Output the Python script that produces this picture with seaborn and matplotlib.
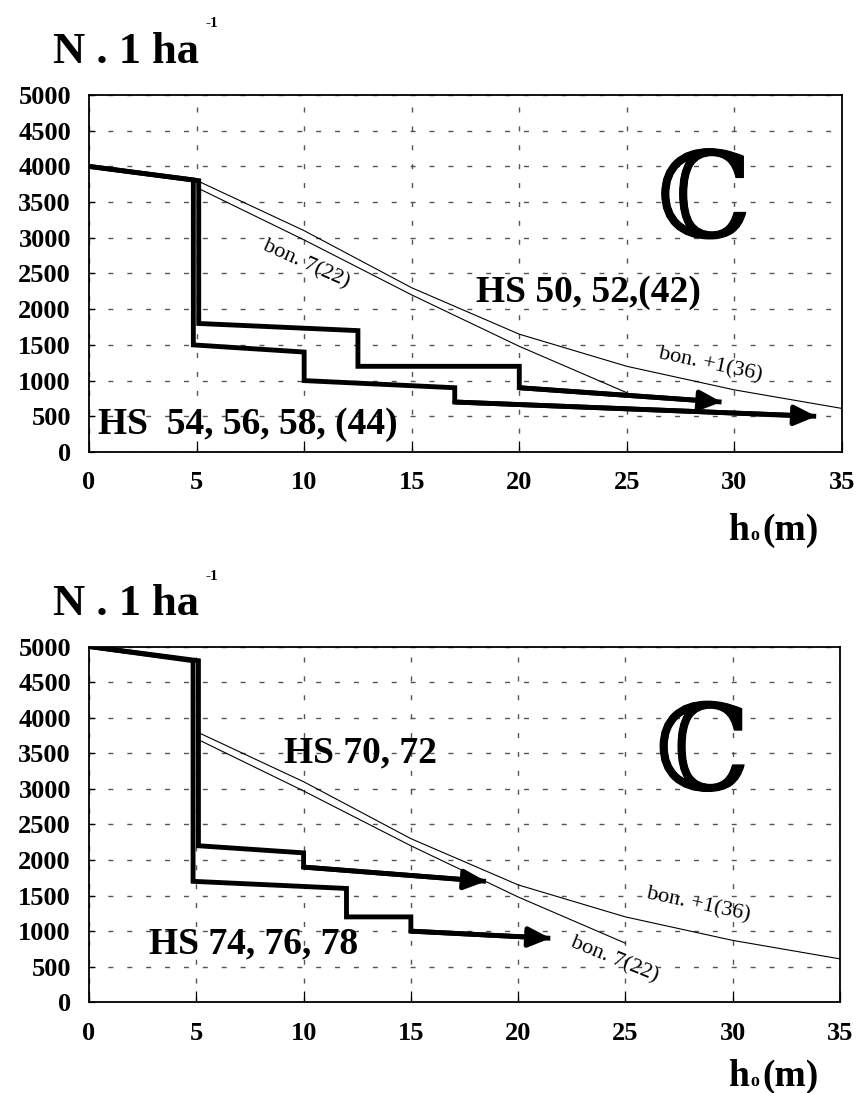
import matplotlib
matplotlib.use("Agg")
import matplotlib.pyplot as plt
import matplotlib.patheffects as pe
import seaborn as sns

# ---------------- data ----------------
x_ticks = [0, 5, 10, 15, 20, 25, 30, 35]
y_ticks = [0, 500, 1000, 1500, 2000, 2500, 3000, 3500, 4000, 4500, 5000]

# top panel
hs50_x = [0, 5.1, 5.1, 12.5, 12.5, 20, 20, 29.4]
hs50_y = [4000, 3800, 1800, 1700, 1200, 1200, 900, 700]
hs54_x = [0, 4.85, 4.85, 10, 10, 17, 17, 33.8]
hs54_y = [4000, 3810, 1500, 1400, 1000, 900, 700, 500]

# bottom panel
hs70_x = [0, 5.1, 5.1, 10, 10, 18.5]
hs70_y = [5000, 4800, 2200, 2100, 1900, 1700]
hs74_x = [0, 4.85, 4.85, 12, 12, 15, 15, 21.5]
hs74_y = [5000, 4800, 1700, 1600, 1200, 1200, 1000, 900]

# site-index (bonitet) curves
bon_p1_x = [5.1, 10, 15, 20, 25, 30, 35]
bon_p1_y = [3790, 3100, 2300, 1650, 1200, 870, 610]
bon_7_x = [5.1, 10, 15, 20, 25]
bon_7_y = [3690, 2970, 2200, 1480, 830]

ylabel_text = "N . 1 ha"
ylabel_sup = "-1"

# ---------------- style ----------------
sns.set_theme(style="white")
plt.rcParams["font.family"] = ["Liberation Serif", "DejaVu Serif"]
for k in ["text.color", "axes.labelcolor", "xtick.color", "ytick.color",
          "axes.edgecolor"]:
    plt.rcParams[k] = "black"

W, H = 860, 1093
fig = plt.figure(figsize=(W / 100, H / 100), dpi=100)
fig.patch.set_facecolor("white")


def px_axes(l, t, r, b):
    return fig.add_axes([l / W, 1 - b / H, (r - l) / W, (b - t) / H])


def ftext(x, y, s, **kw):
    fig.text(x / W, 1 - y / H, s, color="black", **kw)


def thick(ax, xs, ys):
    sns.lineplot(x=xs, y=ys, ax=ax, color="black", linewidth=3.5, sort=False,
                 estimator=None, solid_joinstyle="miter", solid_capstyle="butt")
    ax.annotate("", xy=(xs[-1], ys[-1]), xytext=(xs[-2], ys[-2]),
                arrowprops=dict(arrowstyle="-|>,head_length=0.65,head_width=0.3",
                                color="black", lw=3.5, mutation_scale=20,
                                shrinkA=0, shrinkB=0))


def thin(ax, xs, ys):
    sns.lineplot(x=xs, y=ys, ax=ax, color="black", linewidth=0.8, sort=False,
                 estimator=None)


def setup(ax):
    ax.set_facecolor("white")
    ax.set_xlim(0, 35)
    ax.set_ylim(0, 5000)
    ax.set_xticks(x_ticks)
    ax.set_yticks(y_ticks)
    ax.set_xticklabels([str(v) for v in x_ticks], fontsize=19, fontweight="bold",
                       color="black")
    ax.set_yticklabels([str(v) for v in y_ticks], fontsize=19, fontweight="bold",
                       color="black")
    ax.tick_params(axis="x", direction="in", length=8, width=0.9, pad=14,
                   colors="black", bottom=True)
    ax.tick_params(axis="y", direction="in", length=4, width=0.9, pad=13,
                   colors="black", left=True)
    ax.grid(True, color="#555555", linestyle=(0, (3.6, 10)), linewidth=1.0)
    ax.set_axisbelow(True)
    for sp in ax.spines.values():
        sp.set_color("black")
        sp.set_linewidth(1.3)
        sp.set_visible(True)
    ax.set_xlabel("")
    ax.set_ylabel("")


def label(ax, x, y, s, **kw):
    return ax.text(x, y, s, color="black", ha="center", va="center", **kw)


def big_c(ax, x, y):
    t = label(ax, x, y, "\u2102", fontsize=86, family=["DejaVu Serif"])
    t.set_path_effects([pe.withStroke(linewidth=0.8, foreground="black")])


# ---------------- top panel ----------------
ax1 = px_axes(89, 95, 842, 452)
setup(ax1)
thin(ax1, bon_p1_x, bon_p1_y)
thin(ax1, bon_7_x, bon_7_y)
thick(ax1, hs50_x, hs50_y)
thick(ax1, hs54_x, hs54_y)
label(ax1, 23.2, 2230, "HS 50, 52,(42)", fontsize=27, fontweight="bold")
label(ax1, 7.36, 380, "HS  54, 56, 58, (44)", fontsize=27, fontweight="bold")
label(ax1, 10.1, 2620, "bon. 7(22)", fontsize=16, rotation=-24,
      rotation_mode="anchor")
label(ax1, 28.9, 1220, "bon. +1(36)", fontsize=16, rotation=-12,
      rotation_mode="anchor")
big_c(ax1, 28.6, 3470)

# ---------------- bottom panel ----------------
ax2 = px_axes(89, 646.5, 840, 1002.3)
setup(ax2)
thin(ax2, bon_p1_x, bon_p1_y)
thin(ax2, bon_7_x, bon_7_y)
thick(ax2, hs70_x, hs70_y)
thick(ax2, hs74_x, hs74_y)
label(ax2, 12.66, 3500, "HS 70, 72", fontsize=27, fontweight="bold")
label(ax2, 7.66, 820, "HS 74, 76, 78", fontsize=27, fontweight="bold")
label(ax2, 24.5, 590, "bon. 7(22)", fontsize=16, rotation=-22,
      rotation_mode="anchor")
label(ax2, 28.4, 1370, "bon. +1(36)", fontsize=16, rotation=-12,
      rotation_mode="anchor")
big_c(ax2, 28.6, 3450)

# ---------------- axis titles ----------------
for base, sup in [(63, 27), (615, 580)]:
    ftext(53, base, ylabel_text, fontsize=32, fontweight="bold", va="baseline")
    ftext(206, sup, ylabel_sup, fontsize=11, fontweight="bold", va="baseline")

for base in [540, 1086]:
    ftext(728, base, "h", fontsize=27, fontweight="bold", va="baseline")
    ftext(750, base, "o", fontsize=13, fontweight="bold", va="baseline")
    ftext(762, base, "(m)", fontsize=27, fontweight="bold", va="baseline")

fig.savefig("out.png", dpi=100, facecolor="white")
